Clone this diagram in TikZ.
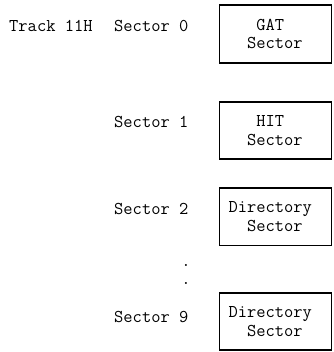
\documentclass[tikz,border=0pt]{standalone}
\usepackage{fontspec}
\newcommand{\mfont}{\ttfamily\fontsize{18pt}{18.5pt}\selectfont}
\begin{document}
\begin{tikzpicture}[x=1pt,y=-1pt,
  sectbox/.style={draw, line width=1.6pt, minimum width=112pt, inner sep=0pt,
    text width=94pt, align=left, font=\mfont},
  lbl/.style={inner sep=0pt, font=\mfont, anchor=base west}]
  \useasboundingbox (0,0) rectangle (333,352);

  % sector boxes
  \node[sectbox, minimum height=58pt] (gat) at (275.5,34) {\phantom{XXX}GAT\\\phantom{XX}Sector};
  \node[sectbox, minimum height=57pt] (hit) at (275.5,130.5) {\phantom{XXX}HIT\\\phantom{XX}Sector};
  \node[sectbox, minimum height=57.5pt] (dir2) at (275.5,216.75) {Directory\\\phantom{XX}Sector};
  \node[sectbox, minimum height=57pt] (dir9) at (275.5,321.5) {Directory\\\phantom{XX}Sector};

  % labels
  \node[lbl] (track) at (9,31.5) {Track 11H};
  \node[lbl] (s0) at (114,31.5) {Sector 0};
  \node[lbl] (s1) at (114,128) {Sector 1};
  \node[lbl] (s2) at (114,214) {Sector 2};
  \node[lbl] (s9) at (114,322) {Sector 9};

  % ellipsis between sector 2 and sector 9
  \node[lbl, anchor=base] (d1) at (186,266.5) {.};
  \node[lbl, anchor=base] (d2) at (186,284) {.};
\end{tikzpicture}
\end{document}
